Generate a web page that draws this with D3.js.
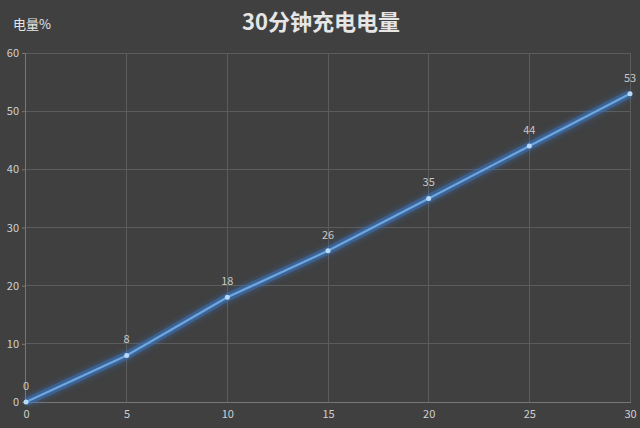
<!DOCTYPE html>
<html><head><meta charset="utf-8">
<script src="https://cdn.jsdelivr.net/npm/d3@7"></script>
<style>html,body{margin:0;padding:0;background:#404040;}svg{display:block;}</style>
</head><body>
<svg id="c" width="640" height="428"></svg>
<script>
const minutes = [0, 5, 10, 15, 20, 25, 30];
const charge = [0, 8, 18, 26, 35, 44, 53];
const xTicks = [0, 5, 10, 15, 20, 25, 30];
const yTicks = [0, 10, 20, 30, 40, 50, 60];
const title = "30分钟充电电量";
const yTitle = "电量%";

const W = 640, H = 428;
const m = {left: 26, right: 10, top: 53, bottom: 26};
const svg = d3.select("#c");
svg.append("rect").attr("width", W).attr("height", H).attr("fill", "#404040");

const x = d3.scaleLinear().domain([0, 30]).range([m.left, W - m.right]);
const y = d3.scaleLinear().domain([0, 60]).range([H - m.bottom, m.top]);

const font = "'Microsoft YaHei','Noto Sans CJK SC','Noto Sans',sans-serif";

const defs = svg.append("defs");
const f = defs.append("filter").attr("id", "glow").attr("x", "-20%").attr("y", "-20%").attr("width", "140%").attr("height", "140%");
f.append("feGaussianBlur").attr("stdDeviation", 3).attr("result", "b");
const mg = f.append("feMerge");
mg.append("feMergeNode").attr("in", "b");
mg.append("feMergeNode").attr("in", "SourceGraphic");

// grid
const g = svg.append("g");
g.selectAll(".gx").data(xTicks.filter(d => d > 0)).join("line")
  .attr("x1", d => x(d)).attr("x2", d => x(d)).attr("y1", y(60)).attr("y2", y(0))
  .attr("stroke", "#5c5c5c").attr("stroke-width", 1).attr("shape-rendering", "crispEdges");
g.selectAll(".gy").data(yTicks.filter(d => d > 0)).join("line")
  .attr("x1", x(0)).attr("x2", x(30)).attr("y1", d => y(d)).attr("y2", d => y(d))
  .attr("stroke", "#5c5c5c").attr("stroke-width", 1).attr("shape-rendering", "crispEdges");

// axes
const yAxis = svg.append("g").attr("transform", `translate(${x(0)},0)`)
  .call(d3.axisLeft(y).tickValues(yTicks).tickSize(4).tickPadding(3));
const xAxis = svg.append("g").attr("transform", `translate(0,${y(0)})`)
  .call(d3.axisBottom(x).tickValues(xTicks).tickSize(0).tickPadding(8));
[yAxis, xAxis].forEach(a => {
  a.selectAll("path").attr("stroke", "#777").attr("shape-rendering", "crispEdges");
  a.selectAll("line").attr("stroke", "#777");
  a.selectAll("text").attr("fill", "#d0d0d0").attr("font-size", 11).attr("font-family", font);
});
yAxis.select("path").attr("d", `M-0.5,${y(60)}V${y(0)}`);

// line
const line = d3.line().x((d, i) => x(minutes[i])).y(d => y(d));
svg.append("path").datum(charge).attr("d", line)
  .attr("fill", "none").attr("stroke", "#3a78c8").attr("stroke-width", 8).attr("stroke-opacity", 0.45)
  .attr("filter", "url(#glow)");
svg.append("path").datum(charge).attr("d", line)
  .attr("fill", "none").attr("stroke", "#6ea6de").attr("stroke-width", 2.2);
svg.selectAll(".pt").data(charge).join("circle")
  .attr("cx", (d, i) => x(minutes[i])).attr("cy", d => y(d)).attr("r", 2.5)
  .attr("fill", "#b8dafa");

// labels
svg.selectAll(".lbl").data(charge).join("text")
  .attr("x", (d, i) => x(minutes[i])).attr("y", d => y(d) - 12)
  .attr("text-anchor", "middle").attr("fill", "#c8c8c8").attr("font-size", 11)
  .attr("font-family", font).text(d => d);

svg.append("text").attr("x", 321).attr("y", 30).attr("text-anchor", "middle")
  .attr("fill", "#e6e6e6").attr("font-size", 22).attr("font-weight", "bold")
  .attr("font-family", font).text(title);
svg.append("text").attr("x", 13).attr("y", 29)
  .attr("fill", "#e6e6e6").attr("font-size", 13)
  .attr("font-family", font).text(yTitle);
</script>
</body></html>
